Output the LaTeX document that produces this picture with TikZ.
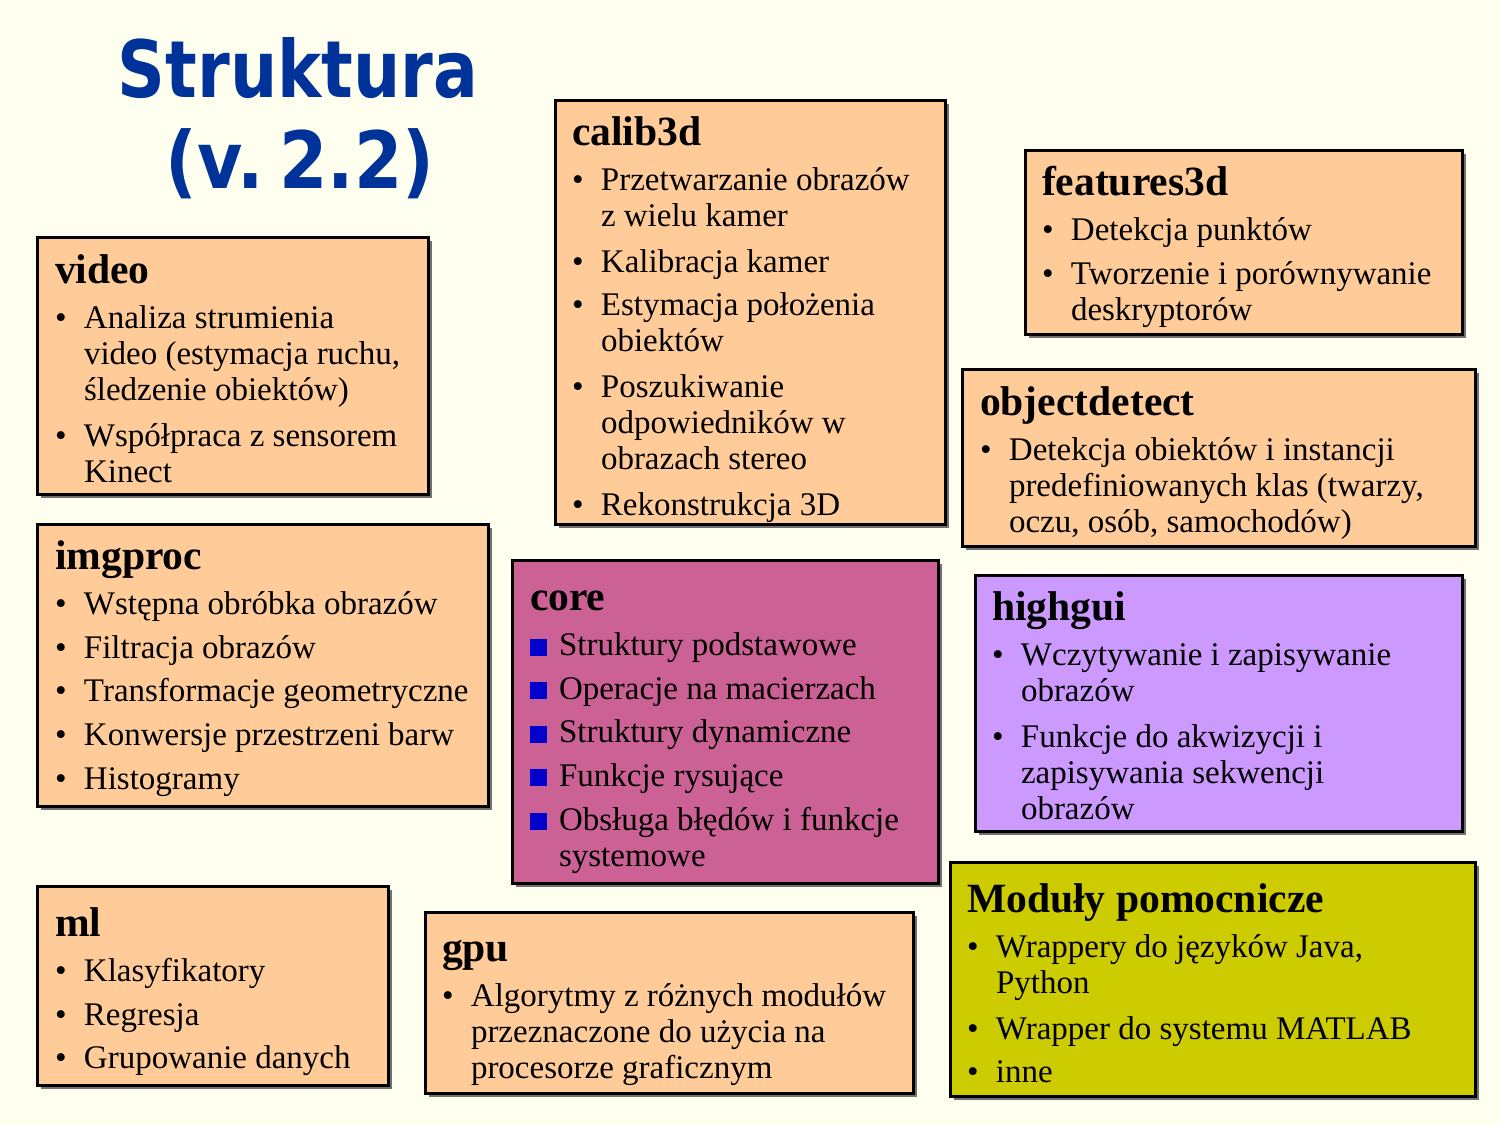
\documentclass[tikz,border=0pt]{standalone}
\usepackage{fontspec}
\setmainfont{Liberation Serif}
\newfontfamily\titlefam{DejaVu Sans}

\definecolor{pagebg}{HTML}{FFFFF0}
\definecolor{titleblue}{HTML}{003399}
\definecolor{peach}{HTML}{FFCC99}
\definecolor{corepink}{HTML}{CC6195}
\definecolor{lilac}{HTML}{CC99FF}
\definecolor{olive}{HTML}{CCCC00}
\definecolor{sqblue}{HTML}{0000CC}
\definecolor{shadowgray}{HTML}{707070}

\tikzset{
  panel/.style={draw=black, line width=1.5pt},
  panelshadow/.style={fill=shadowgray, draw=none},
  paneltext/.style={anchor=base west, inner sep=0pt, outer sep=0pt},
  titletext/.style={anchor=base, inner sep=0pt, text=titleblue,
    font=\titlefam\bfseries\fontsize{39.5}{46}\selectfont},
}

% heading line of a panel
\newcommand{\hd}[1]{\noindent{\fontsize{20.8}{22}\selectfont\bfseries #1}\par\vspace{1pt}}
% round-bullet item (lines separated by \\)
\newcommand{\itm}[1]{\vspace{3.8pt}\noindent\makebox[14.5pt][l]{\textbullet}%
  \begin{tabular}[t]{@{}l@{}}#1\end{tabular}\par}
% square-bullet item
\newcommand{\sqitm}[1]{\vspace{3.8pt}\noindent\makebox[14.5pt][l]{\textcolor{sqblue}{\rule{8.7pt}{8.5pt}}}%
  \begin{tabular}[t]{@{}l@{}}#1\end{tabular}\par}
% panel body
\newcommand{\pbody}[1]{\parbox[t]{12cm}{\fontsize{16.5}{18}\selectfont\setlength{\parindent}{0pt}\setlength{\parskip}{0pt}#1}}
% framed panel with drop shadow
\newcommand{\panelbox}[5]{%
  \fill[panelshadow] (#1+4,#2+4) rectangle (#3+4,#4+4);
  \draw[panel, fill=#5] (#1,#2) rectangle (#3,#4);}
% condensed title lettering
\newcommand{\condensed}[2]{\scalebox{#1}[1]{#2}}

\begin{document}
\begin{tikzpicture}[x=0.5pt, y=-0.5pt]
  \fill[pagebg] (0,0) rectangle (1500,1125);
  \useasboundingbox (0,0) rectangle (1500,1125);

  % title
  \node[titletext] (title1) at (298,97) {\condensed{0.84}{Struktura}};
  \node[titletext] (title2) at (300,188) {\condensed{0.88}{(v.\hspace{9pt}2.2)}};

  % video
  \panelbox{37}{237}{428}{494}{peach}
  \node[paneltext] (video) at (55,283) {\pbody{\hd{video}
    \itm{Analiza strumienia\\video (estymacja ruchu,\\śledzenie obiektów)}
    \itm{Współpraca z sensorem\\Kinect}}};

  % imgproc
  \panelbox{37}{524}{488}{806}{peach}
  \node[paneltext] (imgproc) at (55,569) {\pbody{\hd{imgproc}
    \itm{Wstępna obróbka obrazów}
    \itm{Filtracja obrazów}
    \itm{Transformacje geometryczne}
    \itm{Konwersje przestrzeni barw}
    \itm{Histogramy}}};

  % ml
  \panelbox{37}{886}{388}{1085}{peach}
  \node[paneltext] (ml) at (55,936) {\pbody{\hd{ml}
    \itm{Klasyfikatory}
    \itm{Regresja}
    \itm{Grupowanie danych}}};

  % calib3d
  \panelbox{555}{100}{945}{524}{peach}
  \node[paneltext] (calib3d) at (572,145) {\pbody{\hd{calib3d}
    \itm{Przetwarzanie obrazów\\z wielu kamer}
    \itm{Kalibracja kamer}
    \itm{Estymacja położenia\\obiektów}
    \itm{Poszukiwanie\\odpowiedników w\\obrazach stereo}
    \itm{Rekonstrukcja 3D}}};

  % core
  \panelbox{512}{560}{938}{883}{corepink}
  \node[paneltext] (core) at (530,610) {\pbody{\hd{core}
    \sqitm{Struktury podstawowe}
    \sqitm{Operacje na macierzach}
    \sqitm{Struktury dynamiczne}
    \sqitm{Funkcje rysujące}
    \sqitm{Obsługa błędów i funkcje\\systemowe}}};

  % gpu
  \panelbox{425}{912}{913}{1093}{peach}
  \node[paneltext] (gpu) at (442,961) {\pbody{\hd{gpu}
    \itm{Algorytmy z różnych modułów\\przeznaczone do użycia na\\procesorze graficznym}}};

  % features3d
  \panelbox{1025}{150}{1462}{334}{peach}
  \node[paneltext] (features3d) at (1042,195) {\pbody{\hd{features3d}
    \itm{Detekcja punktów}
    \itm{Tworzenie i porównywanie\\deskryptorów}}};

  % objectdetect
  \panelbox{962}{369}{1475}{546}{peach}
  \node[paneltext] (objectdetect) at (980,415) {\pbody{\hd{objectdetect}
    \itm{Detekcja obiektów i instancji\\predefiniowanych klas (twarzy,\\oczu, osób, samochodów)}}};

  % highgui
  \panelbox{975}{575}{1462}{831}{lilac}
  \node[paneltext] (highgui) at (992,620) {\pbody{\hd{highgui}
    \itm{Wczytywanie i zapisywanie\\obrazów}
    \itm{Funkcje do akwizycji i\\zapisywania sekwencji\\obrazów}}};

  % helper modules
  \panelbox{950}{862}{1475}{1096}{olive}
  \node[paneltext] (helpers) at (967,912) {\pbody{\hd{Moduły pomocnicze}
    \itm{Wrappery do języków Java,\\Python}
    \itm{Wrapper do systemu MATLAB}
    \itm{inne}}};
\end{tikzpicture}
\end{document}
